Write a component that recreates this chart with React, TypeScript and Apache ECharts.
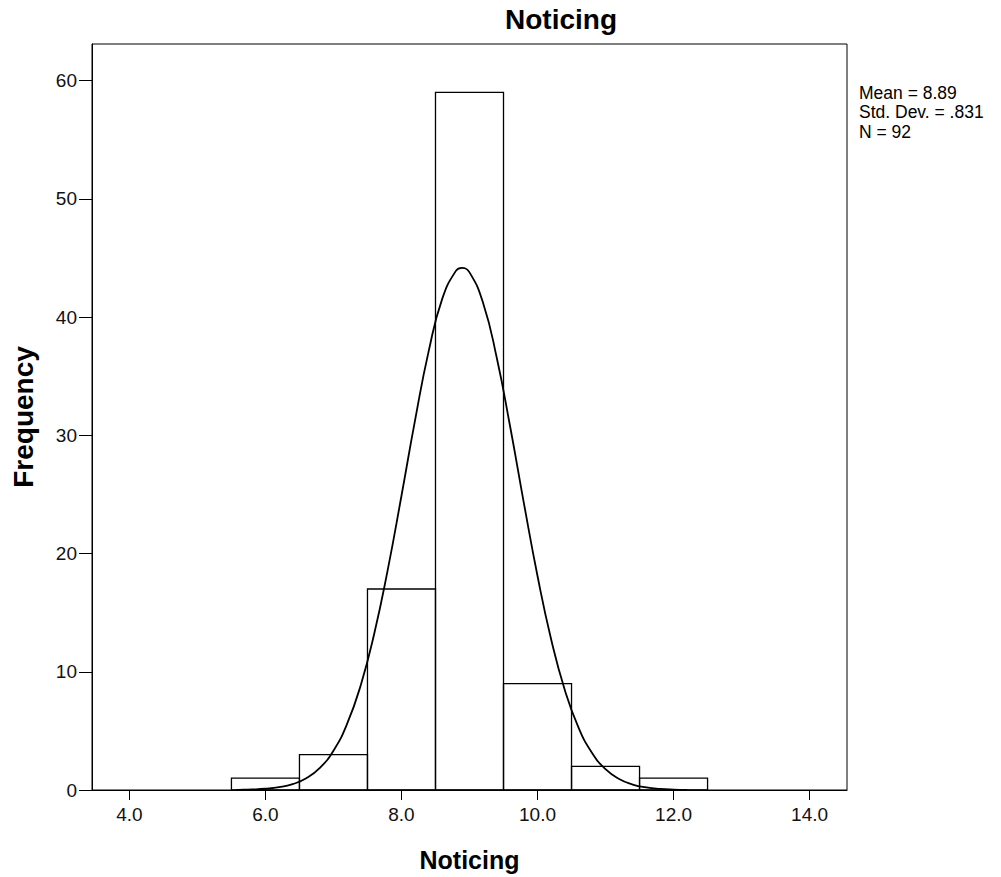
import React, { useEffect, useRef } from "react";
import * as echarts from "echarts";

const chartTitle = "Noticing";
const xAxisName = "Noticing";
const yAxisName = "Frequency";

const binLower = [5.5, 6.5, 7.5, 8.5, 9.5, 10.5, 11.5];
const binUpper = [6.5, 7.5, 8.5, 9.5, 10.5, 11.5, 12.5];
const frequencies = [1, 3, 17, 59, 9, 2, 1];

const xTickValues = [4, 6, 8, 10, 12, 14];

const statLines = ["Mean = 8.89", "Std. Dev. = .831", "N = 92"];

// fitted normal curve
const curveX = [
  5.57, 5.6, 5.8, 6.0, 6.2, 6.4, 6.6, 6.8, 7.0, 7.2, 7.4, 7.6, 7.8, 8.0, 8.2, 8.4, 8.6, 8.8, 8.89,
  9.0, 9.2, 9.4, 9.6, 9.8, 10.0, 10.2, 10.4, 10.6, 10.8, 11.0, 11.2, 11.4, 11.6, 11.8, 12.0, 12.2,
];
const curveY = [
  0.015, 0.017, 0.044, 0.104, 0.234, 0.496, 0.991, 1.869, 3.324, 5.586, 8.847, 13.24, 18.68, 24.89,
  31.29, 37.12, 41.56, 43.91, 44.17, 43.78, 41.2, 36.58, 30.66, 24.25, 18.1, 12.75, 8.476, 5.318,
  3.148, 1.759, 0.927, 0.461, 0.217, 0.096, 0.04, 0.016,
];

const FONT = "'Liberation Sans', Arial, Helvetica, sans-serif";

export default function App() {
  const ref = useRef<HTMLDivElement>(null);

  useEffect(() => {
    if (!ref.current) return;
    const chart = echarts.init(ref.current, undefined, { renderer: "svg" });

    const barData = binLower.map((lo, i) => [lo, binUpper[i], frequencies[i]]);
    const lineData = curveX.map((x, i) => [x, curveY[i]]);

    chart.setOption({
      animation: false,
      backgroundColor: "#fff",
      grid: {
        left: 92,
        right: 154,
        top: 44,
        bottom: 85,
        show: true,
        borderColor: "#000",
        borderWidth: 1,
        backgroundColor: "transparent",
      },
      graphic: [
        {
          type: "text",
          x: 561,
          y: 19,
          style: {
            text: chartTitle,
            font: `bold 28px ${FONT}`,
            fill: "#000",
            align: "center",
            verticalAlign: "middle",
          },
        },
        {
          type: "text",
          x: 859,
          y: 83,
          style: {
            text: statLines.join("\n"),
            font: `17.5px ${FONT}`,
            fill: "#000",
            align: "left",
            verticalAlign: "top",
            lineHeight: 19.5,
          },
        },
      ],
      xAxis: {
        type: "value",
        min: 3.45,
        max: 14.55,
        name: xAxisName,
        nameLocation: "middle",
        nameGap: 57,
        nameTextStyle: { fontFamily: FONT, fontSize: 25, fontWeight: "bold", color: "#000" },
        splitLine: { show: false },
        axisLine: { show: true, onZero: false, lineStyle: { color: "#000", width: 1 } },
        axisTick: {
          show: true,
          length: 10,
          customValues: xTickValues,
          lineStyle: { color: "#000", width: 1 },
        },
        axisLabel: {
          customValues: xTickValues,
          margin: 15,
          fontFamily: FONT,
          fontSize: 19,
          color: "#111",
          formatter: (v: number) => v.toFixed(1),
        },
      },
      yAxis: {
        type: "value",
        min: 0,
        max: 63.1,
        interval: 10,
        name: yAxisName,
        nameLocation: "middle",
        nameGap: 55,
        nameTextStyle: { fontFamily: FONT, fontSize: 28, fontWeight: "bold", color: "#000" },
        splitLine: { show: false },
        axisLine: { show: true, lineStyle: { color: "#000", width: 1 } },
        axisTick: { show: true, length: 13, lineStyle: { color: "#000", width: 1 } },
        axisLabel: {
          margin: 15,
          fontFamily: FONT,
          fontSize: 19,
          color: "#111",
          showMaxLabel: false,
        },
      },
      series: [
        {
          type: "custom",
          data: barData,
          encode: { x: [0, 1], y: 2 },
          renderItem: (params: any, api: any) => {
            const p0 = api.coord([api.value(0), api.value(2)]);
            const p1 = api.coord([api.value(1), 0]);
            return {
              type: "rect",
              shape: { x: p0[0], y: p0[1], width: p1[0] - p0[0], height: p1[1] - p0[1] },
              style: { fill: "none", stroke: "#000", lineWidth: 1.3 },
            };
          },
          z: 2,
        },
        {
          type: "line",
          data: lineData,
          smooth: true,
          symbol: "none",
          lineStyle: { color: "#000", width: 1.8 },
          z: 3,
        },
      ],
    });

    return () => chart.dispose();
  }, []);

  return (
    <div
      ref={ref}
      style={{ position: "absolute", left: 0, top: 0, width: 1001, height: 877 }}
    />
  );
}
